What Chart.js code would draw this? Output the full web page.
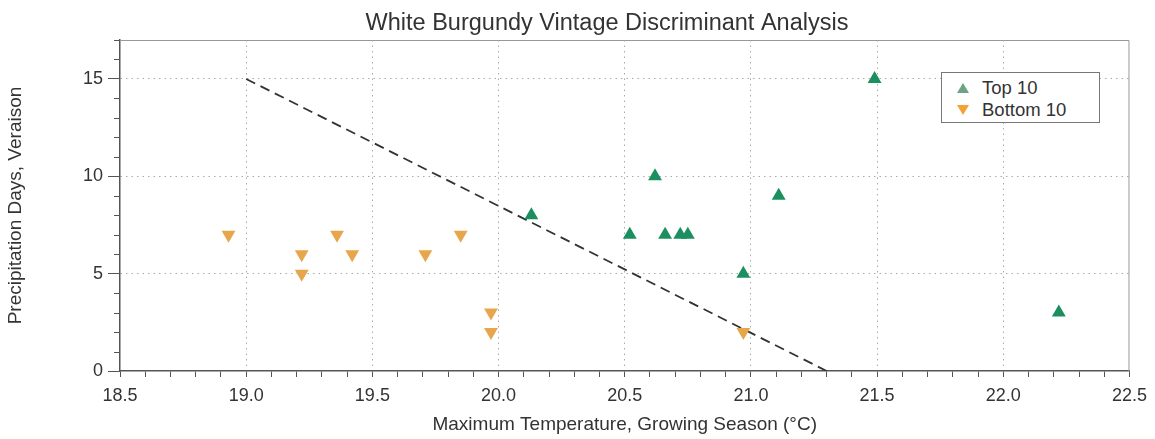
<!DOCTYPE html>
<html>
<head>
<meta charset="utf-8">
<script src="https://cdn.jsdelivr.net/npm/chart.js@4/dist/chart.umd.min.js"></script>
<style>
  html, body { margin: 0; padding: 0; background: #fff; }
  #wrap { position: relative; width: 1155px; height: 439px; }
  #legend {
    position: absolute; left: 941px; top: 72px; width: 159px; height: 51px;
    box-sizing: border-box; border: 1px solid #777; background: #fff;
    font: 18.5px "Liberation Sans", Arial, sans-serif; color: #333;
  }
  .row { position: absolute; left: 0; height: 20px; line-height: 20px; }
  .row span.txt { position: absolute; left: 40px; white-space: nowrap; }
  .mark { position: absolute; left: 15px; top: 5px; width: 0; height: 0;
    border-left: 6px solid transparent; border-right: 6px solid transparent; }
  .up { border-bottom: 10px solid #6ba383; }
  .down { border-top: 10px solid #f5a234; }
</style>
</head>
<body>
<div id="wrap">
  <canvas id="chart" width="1155" height="439"></canvas>
  <div id="legend"></div>
</div>
<script>
// Top 10 vintages
const topX = [20.13, 20.52, 20.62, 20.66, 20.72, 20.75, 20.97, 21.11, 21.49, 22.22];
const topY = [8, 7, 10, 7, 7, 7, 5, 9, 15, 3];
// Bottom 10 vintages
const bottomX = [18.93, 19.22, 19.22, 19.36, 19.42, 19.71, 19.85, 19.97, 19.97, 20.97];
const bottomY = [7, 6, 5, 7, 6, 6, 7, 3, 2, 2];
// discriminant line
const lineX = [19.0, 21.3];
const lineY = [15, 0];

const seriesNames = ['Top 10', 'Bottom 10'];
const xMajor = [18.5, 19.0, 19.5, 20.0, 20.5, 21.0, 21.5, 22.0, 22.5];
const yMajor = [0, 5, 10, 15];
const chartTitle = 'White Burgundy Vintage Discriminant Analysis';

const FONT = '"Liberation Sans", Arial, sans-serif';
const green = '#1b8f5f';
const orange = '#e7a64c';

function pts(xs, ys) {
  return xs.map((x, i) => ({ x: x, y: ys[i] }));
}
function isXMajor(v) {
  return xMajor.some(m => Math.abs(m - v) < 1e-6);
}
function isYMajor(v) {
  return yMajor.some(m => Math.abs(m - v) < 1e-6);
}

// legend box
const legend = document.getElementById('legend');
seriesNames.forEach((name, i) => {
  const row = document.createElement('div');
  row.className = 'row';
  row.style.top = (5 + i * 22) + 'px';
  row.innerHTML = '<div class="mark ' + (i === 0 ? 'up' : 'down') + '"></div><span class="txt"></span>';
  row.querySelector('.txt').textContent = name;
  legend.appendChild(row);
});

// plot frame (top/right), short minor ticks on y, and the title
const frame = {
  id: 'frame',
  beforeDatasetsDraw(chart) {
    const { ctx, chartArea: a, scales } = chart;
    ctx.save();
    ctx.strokeStyle = '#999';
    ctx.lineWidth = 1;
    ctx.beginPath();
    ctx.moveTo(a.left, a.top + 0.5);
    ctx.lineTo(a.right - 0.5, a.top + 0.5);
    ctx.lineTo(a.right - 0.5, a.bottom);
    ctx.stroke();

    const y = scales.y;
    ctx.strokeStyle = '#555';
    ctx.beginPath();
    y.ticks.forEach(t => {
      if (!isYMajor(t.value)) {
        const py = Math.round(y.getPixelForValue(t.value)) + 0.5;
        ctx.moveTo(a.left - 6, py);
        ctx.lineTo(a.left, py);
      }
    });
    ctx.stroke();
    ctx.restore();
  },
  afterDraw(chart) {
    const ctx = chart.ctx;
    ctx.save();
    ctx.fillStyle = '#333';
    ctx.font = '23.5px ' + FONT;
    ctx.textAlign = 'center';
    ctx.textBaseline = 'alphabetic';
    ctx.fillText(chartTitle, 607, 30);
    ctx.restore();
  }
};

new Chart(document.getElementById('chart').getContext('2d'), {
  type: 'scatter',
  data: {
    datasets: [
      {
        label: seriesNames[0],
        data: pts(topX, topY),
        pointStyle: 'triangle',
        pointRadius: 8,
        pointHoverRadius: 8,
        backgroundColor: green,
        borderColor: green,
        borderWidth: 0
      },
      {
        label: seriesNames[1],
        data: pts(bottomX, bottomY),
        pointStyle: 'triangle',
        pointRotation: 180,
        pointRadius: 8,
        pointHoverRadius: 8,
        backgroundColor: orange,
        borderColor: orange,
        borderWidth: 0
      },
      {
        label: 'Discriminant',
        data: pts(lineX, lineY),
        showLine: true,
        pointRadius: 0,
        borderColor: '#333',
        borderWidth: 1.8,
        borderDash: [10, 6],
        fill: false
      }
    ]
  },
  options: {
    responsive: false,
    animation: false,
    devicePixelRatio: 1,
    layout: { padding: { left: 0, right: 22, top: 40, bottom: 0 } },
    plugins: {
      legend: { display: false },
      tooltip: { enabled: false },
      title: { display: false }
    },
    scales: {
      x: {
        type: 'linear',
        min: 18.5,
        max: 22.5,
        afterFit: s => { s.height = 68; },
        ticks: {
          stepSize: 0.1,
          autoSkip: false,
          maxRotation: 0,
          padding: 8,
          color: '#333',
          font: { family: FONT, size: 18 },
          callback: v => isXMajor(v) ? v.toFixed(1) : ''
        },
        grid: {
          color: c => (c.tick && isXMajor(c.tick.value) && c.tick.value > 18.6 && c.tick.value < 22.4) ? '#aaa' : 'rgba(0,0,0,0)',
          tickColor: '#555',
          tickLength: 6,
          lineWidth: 1
        },
        border: { color: '#555', width: 1.5, dash: [1.5, 4] },
        title: {
          display: true,
          text: 'Maximum Temperature, Growing Season (°C)',
          color: '#333',
          font: { family: FONT, size: 19 },
          padding: { top: 0, bottom: 3 }
        }
      },
      y: {
        min: 0,
        max: 17,
        afterFit: s => { s.width = 120; },
        ticks: {
          stepSize: 1,
          autoSkip: false,
          padding: 5,
          color: '#333',
          font: { family: FONT, size: 18 },
          callback: v => isYMajor(v) ? String(v) : ''
        },
        grid: {
          color: c => (c.tick && isYMajor(c.tick.value) && c.tick.value > 0) ? '#aaa' : 'rgba(0,0,0,0)',
          tickColor: c => (c.tick && isYMajor(c.tick.value)) ? '#555' : 'rgba(0,0,0,0)',
          tickLength: 12,
          lineWidth: 1
        },
        border: { color: '#555', width: 1.5, dash: [1.5, 4] },
        title: {
          display: true,
          text: 'Precipitation Days, Veraison',
          color: '#333',
          font: { family: FONT, size: 19 },
          padding: { top: 4, bottom: 0 }
        }
      }
    }
  },
  plugins: [frame]
});
</script>
</body>
</html>
